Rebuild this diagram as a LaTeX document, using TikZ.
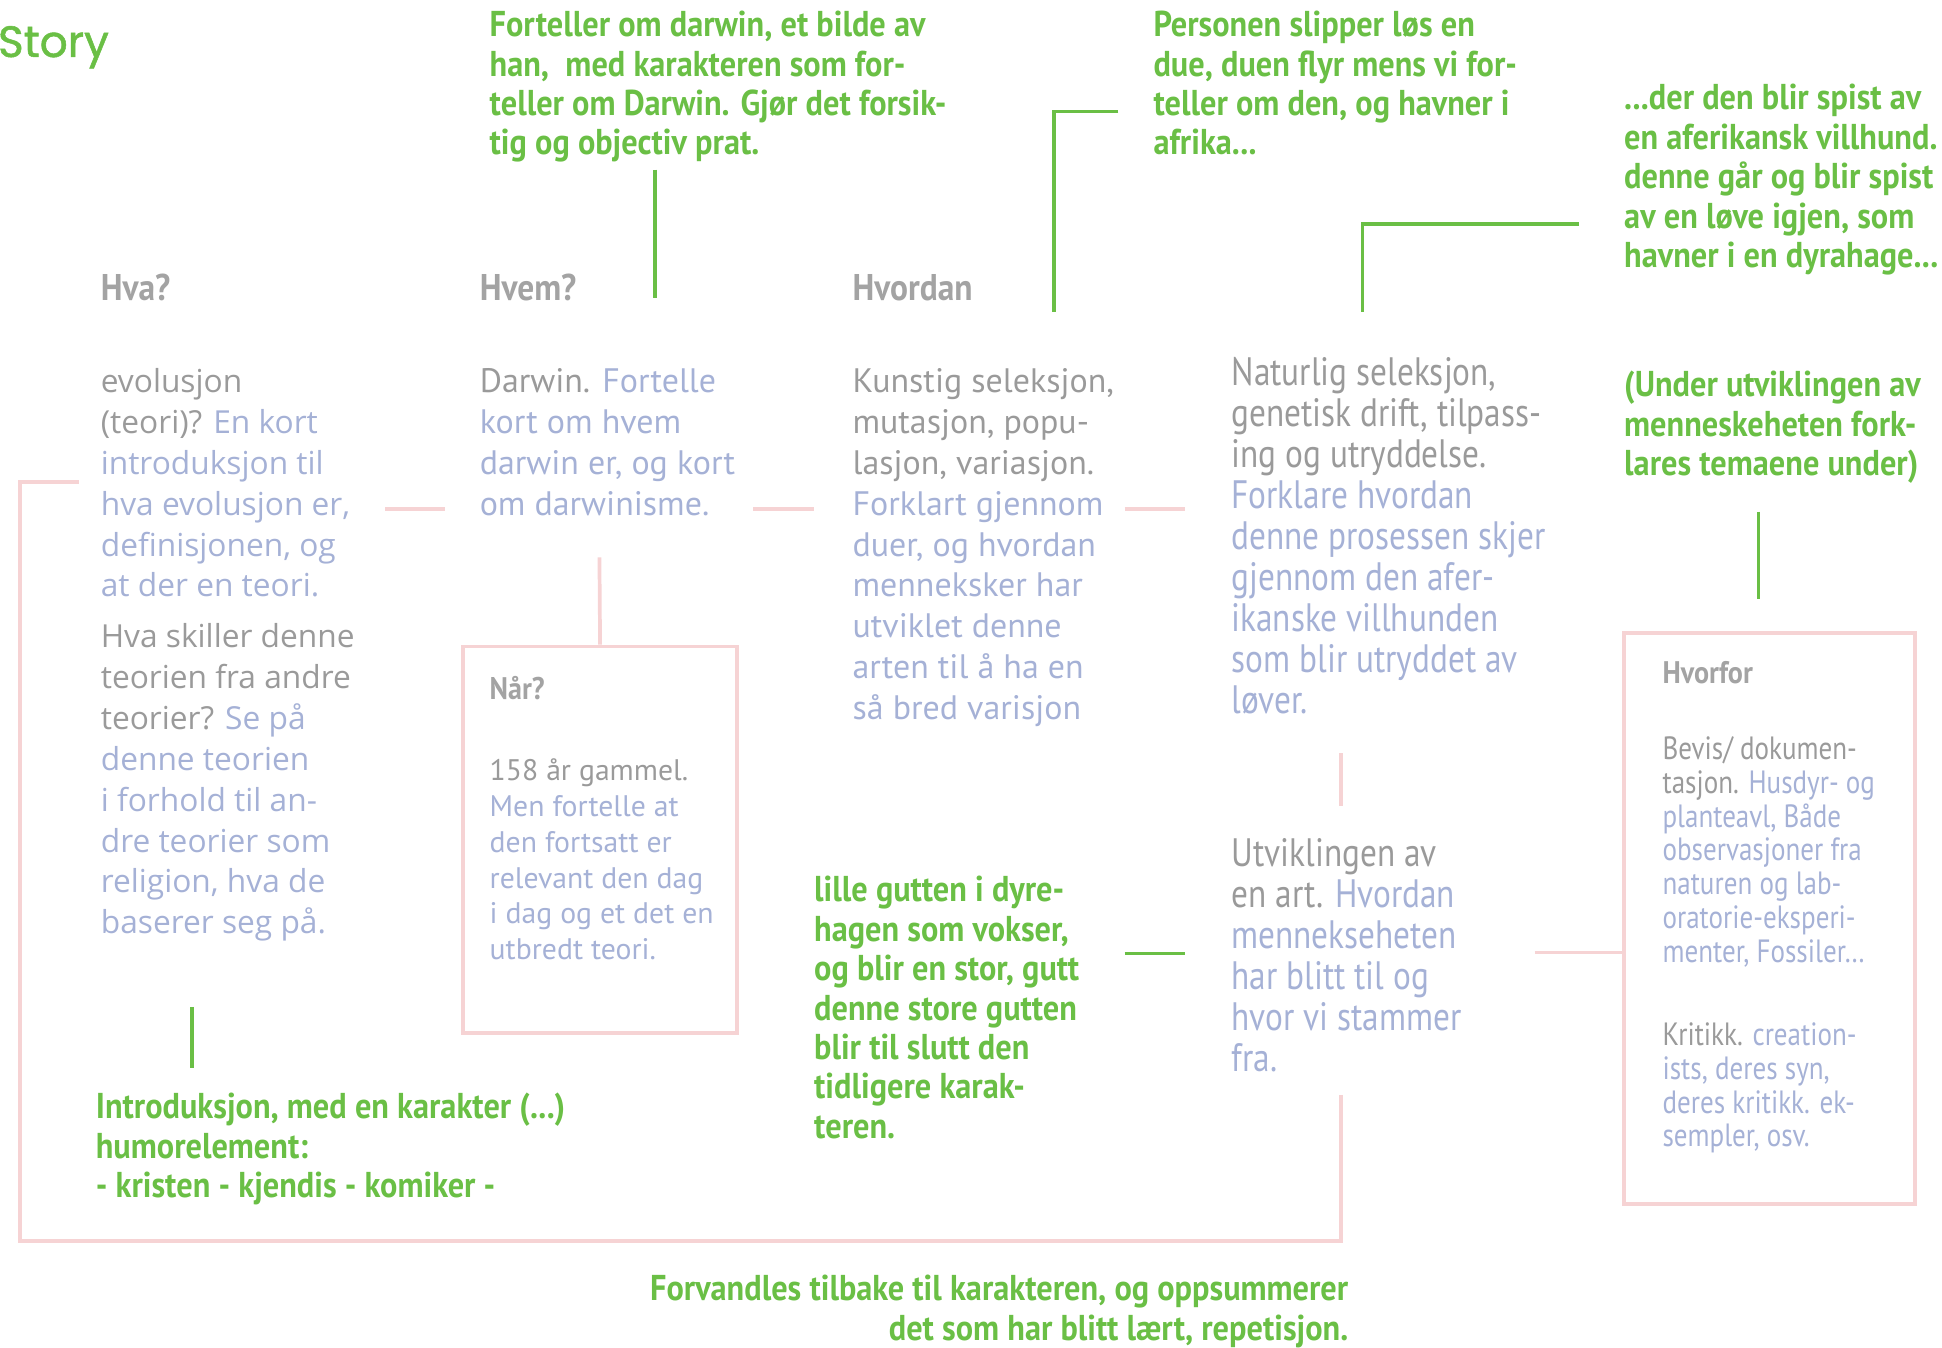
\documentclass[tikz,border=0pt]{standalone}
\usepackage{fontspec}
\setmainfont{PT Sans}
\newfontfamily\ptn[FakeStretch=0.9]{PT Sans}
\newfontfamily\ptnn[FakeStretch=0.84]{PT Sans}
\newfontfamily\osans{Open Sans}
\newfontfamily\storyfont[FakeBold=1.2]{Poppins}
\definecolor{tgreen}{HTML}{6ABF45}
\definecolor{tgray}{HTML}{9A9A9A}
\definecolor{hgray}{HTML}{A3A3A3}
\definecolor{tblue}{HTML}{A5B1D6}
\definecolor{lpink}{HTML}{F6D3D4}
\newcommand{\bl}{\color{tblue}}
\begin{document}
\begin{tikzpicture}[x=0.5pt,y=-0.5pt,
  txt/.style={anchor=base west, inner sep=0pt, align=left, text=tgray},
  grn/.style={txt, text=tgreen, font=\ptn\bfseries\fontsize{14.5pt}{15.9pt}\selectfont},
  head/.style={txt, text=hgray, font=\ptn\bfseries\fontsize{15pt}{16pt}\selectfont},
  smallhead/.style={txt, text=hgray, font=\ptn\bfseries\fontsize{12.6pt}{14pt}\selectfont},
  osbody/.style={txt, font=\osans\fontsize{12.8pt}{16.5pt}\selectfont},
  ptbody/.style={txt, font=\fontsize{13.7pt}{16.5pt}\selectfont},
  nbody/.style={txt, font=\ptnn\fontsize{16pt}{16.55pt}\selectfont},
  nar/.style={txt, font=\fontsize{12pt}{14.5pt}\selectfont},
  hvf/.style={txt, font=\ptnn\fontsize{13pt}{13.65pt}\selectfont},
  pk/.style={draw=lpink, line width=1.5pt},
  gl/.style={draw=tgreen, line width=1.4pt},
  boxst/.style={draw=lpink, line width=1.5pt, rectangle, inner sep=0pt}
]
\useasboundingbox (0,0) rectangle (1568,1088);

% title
\node[txt, text=tgreen, font=\storyfont\fontsize{17.7pt}{20pt}\selectfont] (story) at (-2,46) {Story};

% green top notes (anchor = baseline of last line)
\node[grn] (g1) at (395,125) {Forteller om darwin, et bilde av\\han,\ \ med karakteren som for-\\teller om Darwin. Gjør det forsik-\\tig og objectiv prat.};
\node[grn] (g2) at (931,125) {Personen slipper løs en\\due, duen flyr mens vi for-\\teller om den, og havner i\\afrika...};
\node[grn] (g3) at (1311,216) {...der den blir spist av\\en aferikansk villhund.\\denne går og blir spist\\av en løve igjen, som\\havner i en dyrahage...};

% headers
\node[head] (hva) at (81,243) {Hva?};
\node[head] (hvem) at (387,243) {Hvem?};
\node[head] (hvordan) at (688,243) {Hvordan};

% column 1
\node[osbody] (c1a) at (81,482) {evolusjon\\(teori)? {\bl En kort}\\{\bl introduksjon til}\\{\bl hva evolusjon er,}\\{\bl definisjonen, og}\\{\bl at der en teori.}};
\node[osbody] (c1b) at (81,754) {Hva skiller denne\\teorien fra andre\\teorier? {\bl Se på}\\{\bl denne teorien}\\{\bl i forhold til an-}\\{\bl dre teorier som}\\{\bl religion, hva de}\\{\bl baserer seg på.}};

% column 2
\node[ptbody] (c2) at (387,416) {Darwin. {\bl Fortelle}\\{\bl kort om hvem}\\{\bl darwin er, og kort}\\{\bl om darwinisme.}};

% column 3
\node[ptbody] (c3) at (688,581) {Kunstig seleksjon,\\mutasjon, popu-\\lasjon, variasjon.\\{\bl Forklart gjennom}\\{\bl duer, og hvordan}\\{\bl menneksker har}\\{\bl utviklet denne}\\{\bl arten til å ha en}\\{\bl så bred varisjon}};

% column 4
\node[nbody] (c4) at (994,576) {Naturlig seleksjon,\\genetisk drift, tilpass-\\ing og utryddelse.\\{\bl Forklare hvordan}\\{\bl denne prosessen skjer}\\{\bl gjennom den afer-}\\{\bl ikanske villhunden}\\{\bl som blir utryddet av}\\{\bl løver.}};

\node[nbody] (utv) at (994,865) {Utviklingen av\\en art. {\bl Hvordan}\\{\bl mennekseheten}\\{\bl har blitt til og}\\{\bl hvor vi stammer}\\{\bl fra.}};

% Når box
\node[boxst, minimum width=110.5pt, minimum height=156pt] (narbox) at (484.5,678) {};
\node[smallhead] (narh) at (395,565) {Når?};
\node[nar] (nart) at (395,775) {158 år gammel.\\{\bl Men fortelle at}\\{\bl den fortsatt er}\\{\bl relevant den dag}\\{\bl i dag og et det en}\\{\bl utbredt teori.}};

% Hvorfor box
\node[boxst, minimum width=117.5pt, minimum height=230.5pt] (hvfbox) at (1428.5,741.5) {};
\node[smallhead] (hvfh) at (1342,552) {Hvorfor};
\node[hvf] (hvf1) at (1342,777) {Bevis/ dokumen-\\tasjon. {\bl Husdyr- og}\\{\bl planteavl, Både}\\{\bl observasjoner fra}\\{\bl naturen og lab-}\\{\bl oratorie-eksperi-}\\{\bl menter, Fossiler…}};
\node[hvf] (hvf2) at (1342,926) {Kritikk. {\bl creation-}\\{\bl ists, deres syn,}\\{\bl deres kritikk. ek-}\\{\bl sempler, osv.}};

% green notes lower
\node[grn] (g4) at (1311,384) {(Under utviklingen av\\menneskeheten fork-\\lares temaene under)};
\node[grn] (g5) at (657,919) {lille gutten i dyre-\\hagen som vokser,\\og blir en stor, gutt\\denne store gutten\\blir til slutt den\\tidligere karak-\\teren.};
\node[grn] (g6) at (77,967) {Introduksjon, med en karakter (...)\\humorelement:\\- kristen - kjendis - komiker -};
\node[grn, anchor=base east, align=right] (g7) at (1089,1082) {Forvandles tilbake til karakteren, og oppsummerer\\det som har blitt lært, repetisjon.};

% coordinates for free connector ends
\coordinate (a1) at (529,137); \coordinate (a2) at (529,241);
\coordinate (b1) at (903,90); \coordinate (b2) at (851,90); \coordinate (b3) at (851,252);
\coordinate (d1) at (1275,181); \coordinate (d2) at (1100,181); \coordinate (d3) at (1100,252);
\coordinate (e1) at (1420,413); \coordinate (e2) at (1420,484);
\coordinate (f1) at (155,813); \coordinate (f2) at (155,862);
\coordinate (h1) at (908,770); \coordinate (h2) at (957,770);
\coordinate (p1) at (311,411); \coordinate (p2) at (359,411);
\coordinate (p3) at (608,411); \coordinate (p4) at (657,411);
\coordinate (p5) at (908,411); \coordinate (p6) at (957,411);
\coordinate (q1) at (484,450);
\coordinate (r1) at (1083,608); \coordinate (r2) at (1083,651);
\coordinate (s1) at (1239,769);
\coordinate (t1) at (1083,884); \coordinate (t2) at (1083,1002);
\coordinate (t3) at (16,1002); \coordinate (t4) at (16,389); \coordinate (t5) at (64,389);

% green connectors
\draw[gl] (a1) -- (a2);
\draw[gl] (b1) -- (b2) -- (b3);
\draw[gl] (d1) -- (d2) -- (d3);
\draw[gl] (e1) -- (e2);
\draw[gl] (f1) -- (f2);
\draw[gl] (h1) -- (h2);

% pink connectors
\draw[pk] (p1) -- (p2);
\draw[pk] (p3) -- (p4);
\draw[pk] (p5) -- (p6);
\draw[pk] (q1) -- (narbox.north);
\draw[pk] (r1) -- (r2);
\draw[pk] (s1) -- (s1 -| hvfbox.west);
\draw[pk] (t1) -- (t2) -- (t3) -- (t4) -- (t5);
\end{tikzpicture}
\end{document}
